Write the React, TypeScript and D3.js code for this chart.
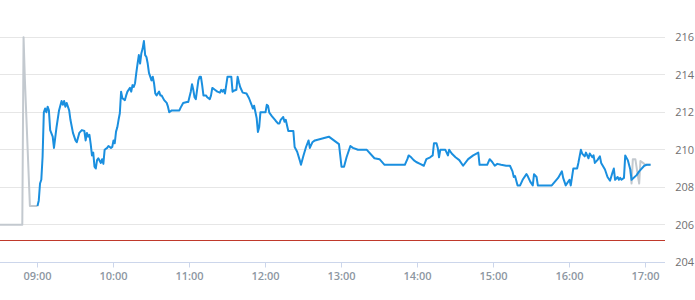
import React from "react";
import * as d3 from "d3";

const yTicks = [204, 206, 208, 210, 212, 214, 216];
const xTicks = ["09:00", "10:00", "11:00", "12:00", "13:00", "14:00", "15:00", "16:00", "17:00"];
const prevClose = 205.14;

const preTimes = ["08:30", "08:48", "08:49", "08:50", "08:54", "09:00"];
const preValues = [206.0, 206.0, 216.0, 213.8, 207.0, 207.0];

const postTimes = ["16:48", "16:49", "16:50", "16:52", "16:54", "16:55", "16:56", "16:58", "17:00", "17:04"];
const postValues = [208.95, 208.2, 209.5, 209.5, 208.6, 208.2, 209.4, 209.3, 209.2, 209.2];

const times = [
  "09:00","09:01","09:02","09:03","09:04","09:05","09:06","09:07","09:08","09:09","09:10","09:12","09:13","09:15","09:17","09:19","09:20","09:21","09:22","09:23","09:25","09:26","09:28","09:30","09:31","09:33","09:35","09:37","09:38","09:39","09:40","09:41","09:42","09:43","09:44","09:45","09:46","09:47","09:48","09:50","09:51","09:52","09:53","09:55","09:56","09:58","09:59",
  "10:00","10:01","10:02","10:03","10:04","10:05","10:06","10:07","10:09","10:10","10:11","10:13","10:14","10:15","10:16","10:17","10:18","10:19","10:20","10:21","10:22","10:23","10:24","10:25","10:26","10:27","10:28","10:30","10:31","10:32","10:33","10:34","10:36","10:37","10:38","10:40","10:42","10:43","10:44","10:46","10:52","10:53","10:55","10:58","10:59",
  "11:01","11:02","11:03","11:04","11:05","11:07","11:08","11:09","11:10","11:11","11:13","11:14","11:16","11:17","11:18","11:20","11:22","11:24","11:25","11:26","11:27","11:28","11:30","11:31","11:33","11:34","11:35","11:37","11:38","11:39","11:40","11:42","11:45","11:47","11:49","11:50","11:51","11:53","11:54","11:55","11:56","11:58",
  "12:00","12:01","12:02","12:03","12:05","12:08","12:10","12:11","12:12","12:14","12:15","12:16","12:17","12:18","12:22","12:23","12:25","12:27","12:28","12:30","12:32","12:34","12:35","12:37","12:39","12:50","12:54","12:58",
  "13:00","13:02","13:04","13:07","13:09","13:13","13:20","13:26","13:30","13:34","13:50","13:52","13:53","13:55","13:57","13:59",
  "14:02","14:05","14:07","14:10","14:12","14:13","14:15","14:16","14:17","14:18","14:22","14:24","14:25","14:27","14:30","14:33","14:36","14:40","14:44","14:48","14:49","14:55","14:57","14:59",
  "15:01","15:03","15:06","15:10","15:13","15:15","15:16","15:17","15:19","15:21","15:23","15:26","15:27","15:29","15:31","15:32","15:34","15:35","15:46","15:51","15:54","15:55","15:57",
  "16:00","16:01","16:03","16:06","16:07","16:09","16:10","16:12","16:13","16:15","16:16","16:18","16:19","16:20","16:22","16:24","16:25","16:28","16:30","16:32","16:34","16:35","16:36","16:38","16:39","16:40","16:41","16:43","16:44","16:46","16:47","16:48","16:49","16:53","16:55","16:59",
  "17:01","17:04"
];
const values = [
  207.0,207.3,208.2,208.4,209.6,212.0,212.2,212.0,212.3,212.1,211.05,210.7,210.1,211.2,212.1,212.6,212.4,212.6,212.3,212.5,212.1,211.6,210.9,210.5,210.4,210.9,211.05,211.0,210.5,210.9,210.7,210.8,210.3,209.7,209.85,209.1,209.0,209.45,209.55,209.3,209.5,209.25,210.0,210.1,210.2,210.1,210.15,
  210.5,210.35,210.97,211.2,211.6,211.95,213.1,212.75,212.65,212.9,213.1,213.3,213.1,213.45,213.35,213.55,214.1,214.6,215.05,214.6,215.15,215.4,215.8,215.05,214.95,214.6,214.1,213.7,213.9,213.55,213.0,212.9,213.1,212.9,212.9,212.65,212.5,212.3,212.0,212.1,212.1,212.25,212.5,212.55,212.55,
  213.1,213.5,213.2,212.8,212.7,213.7,213.9,213.9,213.45,212.9,212.9,212.8,212.7,212.9,213.3,213.2,213.1,213.05,213.2,213.1,213.2,213.0,213.9,213.9,213.9,213.1,213.15,213.2,213.9,213.6,213.35,213.05,213.0,212.75,212.4,212.2,212.35,211.7,210.95,211.2,212.0,212.0,
  212.0,212.4,212.35,211.98,211.8,211.55,211.4,211.4,211.6,211.75,211.5,211.6,211.3,211.0,211.0,210.15,209.9,209.45,209.2,209.7,210.15,210.5,210.1,210.4,210.5,210.7,210.5,210.3,
  209.1,209.1,209.6,210.2,210.1,210.0,210.0,209.55,209.5,209.2,209.2,209.5,209.7,209.6,209.45,209.35,
  209.25,209.15,209.5,209.6,209.7,210.35,210.35,210.1,209.6,210.0,210.0,209.7,210.0,209.8,209.6,209.45,209.15,209.5,209.7,209.85,209.2,209.2,209.5,209.35,
  209.15,209.25,209.2,209.15,209.15,208.85,208.55,208.6,208.1,208.1,208.4,208.7,208.6,208.3,208.1,208.7,208.55,208.1,208.1,208.5,208.85,208.5,208.1,
  208.4,208.1,209.0,209.0,209.3,210.0,209.8,209.65,209.85,209.55,209.8,209.6,209.7,209.3,209.45,209.65,209.3,208.95,208.55,208.35,208.8,209.0,208.4,208.55,208.4,208.5,208.4,208.5,209.7,209.45,209.2,208.95,208.4,208.65,208.85,209.15,
  209.2,209.2
];

const W = 695;
const H = 300;
const plotRight = 665;
const parse = d3.timeParse("%H:%M");

export default function App() {
  const x = d3.scaleTime().domain([parse("08:30")!, parse("17:15")!]).range([-0.5, plotRight - 0.5]);
  const y = d3.scaleLinear().domain([204, 216]).range([262.3, 37.3]);

  const line = d3
    .line<[Date, number]>()
    .x((d) => x(d[0]))
    .y((d) => y(d[1]))
    .curve(d3.curveLinear);

  const zip = (t: string[], v: number[]) => t.map((s, i) => [parse(s)!, v[i]] as [Date, number]);
  const crisp = (v: number) => Math.floor(v) + 0.5;

  const axisY = crisp(y(204));
  const font = "'Open Sans', 'Noto Sans', sans-serif";

  return (
    <svg width={W} height={H} style={{ position: "fixed", left: 0, top: 0, background: "#fff" }}>
      {yTicks.filter((t) => t !== 204).map((t) => (
        <line key={t} x1={0} x2={plotRight} y1={crisp(y(t))} y2={crisp(y(t))} stroke="#e6e6e6" strokeWidth={1} />
      ))}
      <line x1={0} x2={plotRight} y1={axisY} y2={axisY} stroke="#ccd6eb" strokeWidth={1} />
      {xTicks.map((t) => {
        const px = crisp(x(parse(t)!));
        return (
          <g key={t}>
            <line x1={px} x2={px} y1={axisY} y2={axisY + 5} stroke="#ccd6eb" strokeWidth={1} />
            <text x={px} y={280} textAnchor="middle" fontFamily={font} fontSize={11} fontWeight={600} fill="#8d97a2">
              {t}
            </text>
          </g>
        );
      })}
      {yTicks.map((t) => (
        <text key={t} x={694} y={y(t) + 4} textAnchor="end" fontFamily={font} fontSize={11} fill="#707070">
          {t}
        </text>
      ))}
      <line x1={0} x2={plotRight} y1={crisp(y(prevClose))} y2={crisp(y(prevClose))} stroke="#c0392b" strokeWidth={1} />
      <path d={line(zip(preTimes, preValues)) ?? ""} fill="none" stroke="#c3c9cf" strokeWidth={2} strokeLinejoin="round" />
      <path d={line(zip(postTimes, postValues)) ?? ""} fill="none" stroke="#c3c9cf" strokeWidth={2} strokeLinejoin="round" />
      <path d={line(zip(times, values)) ?? ""} fill="none" stroke="#1a8fdf" strokeWidth={2} strokeLinejoin="round" />
    </svg>
  );
}
